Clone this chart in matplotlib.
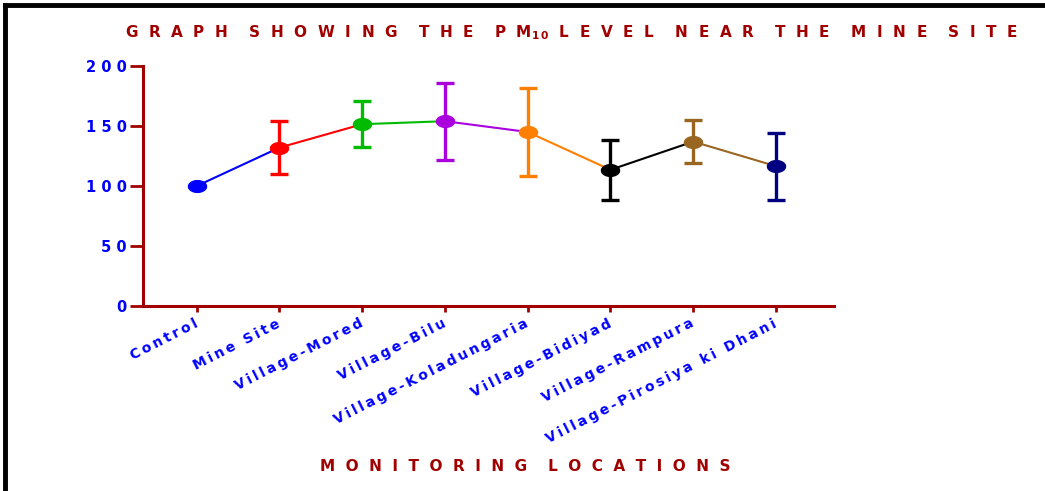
import matplotlib
matplotlib.use("Agg")
import matplotlib.pyplot as plt
from matplotlib.lines import Line2D
from matplotlib.path import Path
import numpy as np

locations = ["Control", "Mine Site", "Village-Mored", "Village-Bilu",
             "Village-Koladungaria", "Village-Bidiyad", "Village-Rampura",
             "Village-Pirosiya ki Dhani"]
pm10_mean = [100, 132, 151.5, 154, 145, 113.5, 137, 116.5]
pm10_sd = [0, 22, 19, 32, 37, 25, 18, 28]
point_colors = ["#0000ff", "#ff0000", "#00bb00", "#aa00dd",
                "#ff8000", "#000000", "#996622", "#000080"]
y_ticks = [0, 50, 100, 150, 200]

DARKRED = "#a00000"
plt.rcParams['font.family'] = ['DejaVu Sans']
plt.rcParams['mathtext.fontset'] = 'custom'
plt.rcParams['mathtext.rm'] = 'DejaVu Sans:bold'


def spaced(s, gap="\u2009", word_gap=None):
    # fake letter spacing by putting a gap between characters
    if word_gap is None:
        return gap.join(s)
    return word_gap.join(gap.join(w) for w in s.split(" "))


HEAD_GAP = "  "
HEAD_WORD = "    "

# slightly flattened dot for the markers
t = np.linspace(0, 2 * np.pi, 60)
oval = Path(np.column_stack([np.cos(t), 0.65 * np.sin(t)]), closed=True)

fig = plt.figure(figsize=(10.45, 4.91), dpi=100)
ax = fig.add_axes([0.1368, 0.3768, 0.6612, 0.4888])

x = np.arange(len(locations))

# each segment takes the colour of the point it starts from
for i in range(len(x) - 1):
    ax.plot(x[i:i + 2], pm10_mean[i:i + 2], color=point_colors[i], lw=1.5, zorder=2)

for i in range(len(x)):
    if pm10_sd[i] > 0:
        ax.errorbar(x[i], pm10_mean[i], yerr=pm10_sd[i], color=point_colors[i],
                    elinewidth=2.4, capsize=6.5, capthick=2.4, zorder=3)
    ax.plot(x[i], pm10_mean[i], marker=oval, markersize=13,
            color=point_colors[i], zorder=4)

ax.set_xlim(-0.65, 7.7)
ax.set_ylim(0, 200)
ax.set_yticks(y_ticks)
ax.set_yticklabels([spaced(str(v), " ") for v in y_ticks],
                   color="#0000ff", fontweight="bold", fontsize=10.5)
ax.set_xticks(x)
ax.set_xticklabels([spaced(s) for s in locations], rotation=27,
                   ha="right", va="center", rotation_mode="anchor",
                   color="#0000ff", fontweight="bold", fontsize=10)

for side in ["top", "right"]:
    ax.spines[side].set_visible(False)
for side in ["left", "bottom"]:
    ax.spines[side].set_color(DARKRED)
    ax.spines[side].set_linewidth(2.2)
ax.tick_params(axis="y", length=9.5, width=2, color=DARKRED, pad=2)
ax.tick_params(axis="x", length=4, width=2, color=DARKRED, pad=8)

title = (spaced("GRAPH SHOWING THE PM", HEAD_GAP, HEAD_WORD) + r"$_{1\,0}$" + "  "
         + spaced("LEVEL NEAR THE MINE SITE", HEAD_GAP, HEAD_WORD))
fig.text(0.547, 0.933, title, ha="center", va="center",
         color=DARKRED, fontweight="bold", fontsize=11)
fig.text(0.503, 0.049, spaced("MONITORING LOCATIONS", HEAD_GAP, HEAD_WORD),
         ha="center", va="center", color=DARKRED, fontweight="bold", fontsize=11)

# frame around the figure
fig.add_artist(Line2D([0.005, 1.0], [0.99, 0.99], transform=fig.transFigure,
                      color="black", lw=3.5))
fig.add_artist(Line2D([0.005, 0.005], [0.0, 0.99], transform=fig.transFigure,
                      color="black", lw=3.5))

fig.savefig("out.png", dpi=100)
